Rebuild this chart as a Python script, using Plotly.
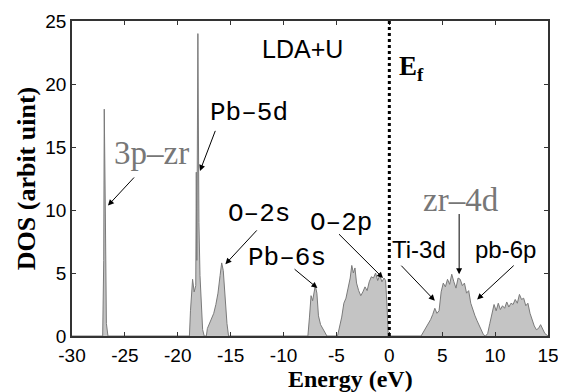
import plotly.graph_objects as go

# Energy grid (eV) and total DOS (arbitrary units)
energy = [
    -30.0, -27.1, -27.0, -26.95, -26.85, -26.75, -26.6,
    -18.9, -18.8, -18.6, -18.45, -18.3, -18.25, -18.2, -18.1, -18.0, -17.9, -17.8, -17.65, -17.5,
    -17.3, -17.2, -17.0, -16.8, -16.6, -16.4, -16.2, -16.0, -15.85, -15.7, -15.6, -15.5, -15.35, -15.2,
    -7.7, -7.55, -7.4, -7.25, -7.1, -7.0, -6.85, -6.7, -6.5, -6.3, -6.1, -5.9,
    -4.9, -4.7, -4.5, -4.3, -4.1, -3.9, -3.7, -3.55, -3.4, -3.25, -3.1, -2.9, -2.7, -2.5, -2.3,
    -2.1, -1.9, -1.7, -1.5, -1.3, -1.1, -0.9, -0.7, -0.5, -0.35, -0.2, -0.1,
    3.0, 3.3, 3.6, 3.9, 4.1, 4.3, 4.5, 4.7, 4.9, 5.1, 5.3, 5.5, 5.7, 5.9, 6.1, 6.3, 6.5, 6.7,
    6.9, 7.1, 7.3, 7.5, 7.7, 7.9, 8.1, 8.3, 8.5, 8.7, 8.9, 9.1, 9.3, 9.5, 9.7, 9.9, 10.1, 10.3,
    10.5, 10.7, 10.9, 11.1, 11.3, 11.5, 11.7, 11.9, 12.1, 12.3, 12.5, 12.7, 12.9, 13.1, 13.3,
    13.5, 13.7, 13.9, 14.1, 14.3, 14.5, 14.7, 15.0,
]
dos = [
    0.0, 0.0, 6.0, 18.0, 10.0, 1.0, 0.0,
    0.0, 2.0, 4.5, 3.5, 4.0, 13.0, 6.0, 24.0, 9.0, 4.8, 3.0, 0.5, 0.0,
    0.0, 0.6, 1.0, 1.3, 1.8, 2.5, 3.4, 4.8, 5.8, 5.2, 4.0, 2.5, 1.0, 0.0,
    0.0, 1.5, 3.2, 2.8, 3.6, 4.0, 3.4, 1.6, 0.9, 0.6, 0.3, 0.0,
    0.0, 0.8, 1.5, 2.6, 3.0, 3.8, 4.6, 5.6, 5.0, 5.4, 4.2, 3.6, 3.2, 3.5, 3.9,
    3.6, 4.3, 4.7, 4.6, 5.0, 4.4, 4.8, 4.3, 4.6, 4.4, 2.0, 0.0,
    0.0, 0.4, 0.9, 1.3, 1.7, 2.2, 1.8, 2.0, 3.5, 4.2, 3.9, 4.5, 4.1, 4.9, 4.3, 3.8, 4.6, 4.5,
    4.0, 4.2, 3.4, 3.6, 2.6, 2.0, 1.6, 1.2, 0.8, 0.4, 0.1, 0.0, 0.2, 1.0, 1.8, 2.5, 2.0, 2.6,
    2.1, 2.4, 2.2, 2.7, 2.3, 2.6, 2.5, 2.9, 2.6, 3.3, 2.9, 3.0, 2.4, 2.6, 1.8,
    1.2, 0.8, 0.5, 0.6, 0.9, 0.5, 0.2, 0.0,
]

x_ticks = [-30, -25, -20, -15, -10, -5, 0, 5, 10, 15]
y_ticks = [0, 5, 10, 15, 20, 25]

# Peak labels: (text, text_x, text_y, arrow_tail_x, arrow_tail_y, head_x, head_y, style)
labels = [
    ("3p\u2013zr", -22.5, 14.5, -24.0, 12.7, -26.6, 10.35, "big"),
    ("Pb\u20135d", -13.3, 17.7, -16.4, 16.4, -17.9, 13.1, "mono"),
    ("O\u20132s", -12.3, 9.7, -12.4, 8.5, -15.5, 5.7, "mono"),
    ("Pb\u20136s", -9.7, 6.2, -9.1, 5.4, -6.8, 3.8, "mono"),
    ("O\u20132p", -4.6, 9.0, -4.9, 8.2, -0.6, 4.6, "mono"),
    ("Ti-3d", 2.85, 6.9, 1.0, 5.7, 4.3, 2.8, "sans"),
    ("zr\u20134d", 6.8, 10.8, 6.6, 9.8, 6.6, 4.9, "big"),
    ("pb-6p", 11.0, 6.9, 11.9, 5.7, 8.3, 2.9, "sans"),
]

fig = go.Figure()
fig.add_trace(go.Scatter(
    x=energy, y=dos, mode="lines", fill="tozeroy",
    fillcolor="#c4c4c4", line=dict(color="#7a7a7a", width=1),
    showlegend=False, hoverinfo="skip",
))

fig.add_shape(type="line", x0=0, x1=0, y0=0, y1=25, xref="x", yref="y",
              line=dict(color="black", width=3, dash="dot"))

styles = {
    "big": dict(family="Liberation Serif, serif", size=33, color="#777777"),
    "mono": dict(family="Courier New, Liberation Mono, monospace", size=26, color="black"),
    "sans": dict(family="Liberation Sans, Arial, sans-serif", size=24, color="black"),
}
for text, tx, ty, ax, ay, hx, hy, st in labels:
    fig.add_annotation(x=tx, y=ty, text=text, showarrow=False, font=styles[st])
    fig.add_annotation(x=hx, y=hy, ax=ax, ay=ay, axref="x", ayref="y", text="",
                       showarrow=True, arrowhead=2, arrowsize=1.2, arrowwidth=1,
                       arrowcolor="black")

fig.add_annotation(x=-8.2, y=22.8, text="LDA+U", showarrow=False,
                   font=dict(family="Liberation Sans, Arial, sans-serif", size=25, color="black"))
fig.add_annotation(x=0.75, y=21.3, xanchor="left", text="<b>E<sub>f</sub></b>", showarrow=False,
                   font=dict(family="Liberation Serif, serif", size=27, color="black"))

# x-axis title placed as annotation (reference centres it right of the plot centre)
fig.add_annotation(x=-3.7, xref="x", y=-0.137, yref="paper", yanchor="middle",
                   text="<b>Energy (eV)</b>", showarrow=False,
                   font=dict(family="Liberation Serif, serif", size=24, color="black"))

axis_common = dict(showline=True, linecolor="#333333", linewidth=1.5, mirror="ticks",
                   ticks="inside", ticklen=4, tickcolor="#333333", showgrid=False,
                   zeroline=False, automargin=False,
                   tickfont=dict(family="Liberation Sans, Arial, sans-serif", size=19, color="black"))

# The page body adds an 8 px offset, so the figure is 8 px smaller than the window
fig.update_layout(
    width=558, height=384,
    margin=dict(l=64, r=18, t=13, b=56),
    paper_bgcolor="white", plot_bgcolor="white",
    xaxis=dict(range=[-30, 15], tickvals=x_ticks, ticktext=[str(v) for v in x_ticks],
               ticklabelstandoff=1, **axis_common),
    yaxis=dict(range=[0, 25], tickvals=y_ticks, ticktext=[str(v) for v in y_ticks],
               title=dict(text="<b>DOS (arbit uint)</b>", standoff=2,
                          font=dict(family="Liberation Serif, serif", size=26, color="black")),
               **axis_common),
)

fig.write_html("out.html")
